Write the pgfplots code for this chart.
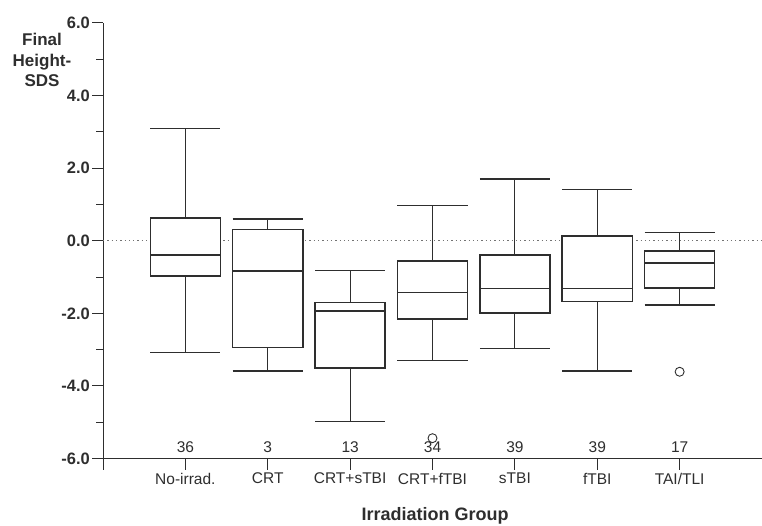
\documentclass[border=0pt]{standalone}
\usepackage{fontspec}
\setmainfont{Liberation Sans}
\usepackage{pgfplots}
\pgfplotsset{compat=1.18}
\usepgfplotslibrary{statistics}
\definecolor{ink}{HTML}{2E2E2E}
\begin{document}
\begin{tikzpicture}
\begin{axis}[
  at={(0pt,0pt)}, anchor=south west,
  scale only axis, width=659pt, height=435.5pt,
  xmin=0, xmax=8, ymin=-6, ymax=6,
  axis lines=left, axis line style={-, line width=1pt, draw=ink},
  tick align=outside, tick style={line width=1pt, draw=ink},
  major tick length=11pt, minor tick length=7pt,
  xtick={0,...,8},
  xticklabels={,No-irrad.,CRT,CRT+sTBI,CRT+fTBI,sTBI,fTBI,TAI/TLI,},
  ytick={-6,-4,...,6},
  yticklabels={-6.0,-4.0,-2.0,0.0,2.0,4.0,6.0},
  minor ytick={-5,-3,...,5},
  xticklabel style={font=\fontsize{15.5}{18}\selectfont, text=ink},
  yticklabel style={font=\fontsize{16.5}{18}\selectfont\bfseries, text=ink, inner sep=2pt},
  clip=false,
  boxplot/draw direction=y,
  boxplot/box extend=0.85,
  boxplot/whisker extend=0.85,
  boxplot/every box/.style={line width=1.5pt, fill=white, draw=ink},
  boxplot/every median/.style={line width=1.5pt, draw=ink},
  boxplot/every whisker/.style={line width=1.2pt, draw=ink},
  mybox/.style={draw=ink, line width=1.2pt, solid, mark=o, mark size=4.5pt, mark options={line width=0.9pt, draw=ink}},
]
\addplot[draw=black!55, line width=1.2pt, dash pattern=on 1.3pt off 3pt] coordinates {(0,0) (8,0)};

\addplot[mybox, boxplot prepared={draw position=1, lower whisker=-3.09, lower quartile=-0.97, median=-0.39, upper quartile=0.63, upper whisker=3.09}] coordinates {};
\addplot[mybox, boxplot prepared={draw position=2, lower whisker=-3.59, lower quartile=-2.94, median=-0.83, upper quartile=0.31, upper whisker=0.60}] coordinates {};
\addplot[mybox, boxplot prepared={draw position=3, lower whisker=-4.99, lower quartile=-3.50, median=-1.93, upper quartile=-1.70, upper whisker=-0.83}] coordinates {};
\addplot[mybox, boxplot prepared={draw position=4, lower whisker=-3.29, lower quartile=-2.15, median=-1.43, upper quartile=-0.56, upper whisker=0.98}] table[row sep=\\, y index=0] {-5.44\\};
\addplot[mybox, boxplot prepared={draw position=5, lower whisker=-2.97, lower quartile=-1.99, median=-1.32, upper quartile=-0.39, upper whisker=1.70}] coordinates {};
\addplot[mybox, boxplot prepared={draw position=6, lower whisker=-3.59, lower quartile=-1.67, median=-1.32, upper quartile=0.13, upper whisker=1.42}] coordinates {};
\addplot[mybox, boxplot prepared={draw position=7, lower whisker=-1.77, lower quartile=-1.30, median=-0.61, upper quartile=-0.28, upper whisker=0.22}] table[row sep=\\, y index=0] {-3.61\\};

\foreach \p/\n in {1/36,2/3,3/13,4/34,5/39,6/39,7/17}{
  \edef\tmp{\noexpand\node[anchor=base, text=ink, font=\noexpand\fontsize{15.5}{18}\noexpand\selectfont] at (axis cs:\p,-5.84) {\n};}
  \tmp
}
\end{axis}
\node[align=center, anchor=north, inner sep=0pt, text=ink,
      font=\fontsize{17}{20.5}\selectfont\bfseries] at (-61pt,425.5pt) {Final\\Height-\\SDS};
\node[anchor=base, inner sep=0pt, text=ink, font=\fontsize{18}{20}\selectfont\bfseries] at (332pt,-62pt) {Irradiation Group};
\pgfresetboundingbox
\path[use as bounding box] (-103pt,-66.5pt) rectangle (659pt,458.5pt);
\end{tikzpicture}
\end{document}
